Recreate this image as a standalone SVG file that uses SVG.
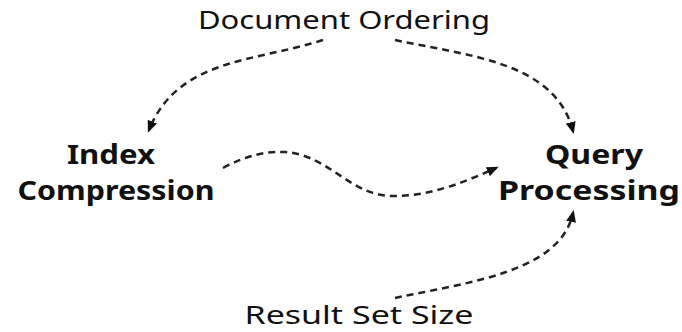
<svg xmlns="http://www.w3.org/2000/svg" width="682" height="332" viewBox="0 0 682 332">
<style>
.t{font-family:"Noto Sans","Open Sans",sans-serif;font-size:25px;fill:#111;text-anchor:middle}
.b{font-family:"Noto Sans","Open Sans",sans-serif;font-size:27px;font-weight:bold;fill:#111;text-anchor:middle}
.e{fill:none;stroke:#222;stroke-width:2.5;stroke-dasharray:7 5;marker-end:url(#ah)}
</style>
<defs>
<marker id="ah" markerWidth="12" markerHeight="10" refX="9" refY="5" orient="auto" markerUnits="userSpaceOnUse">
<path d="M0,0 L12,5 L0,10 z" fill="#111"/>
</marker>
</defs>
<rect width="682" height="332" fill="#fff"/>
<g id="connectors">
<path class="e" d="M323,40 C255,62 178,58 149,130"/>
<path class="e" d="M395,40 C470,56 555,62 573,131"/>
<path class="e" d="M223,168 C245,156 265,151 285,152 C330,155 350,197 395,196 C430,196 465,182 496,168"/>
<path class="e" d="M395,298 C470,282 560,272 573,213"/>
</g>
<g id="document-ordering"><text class="t" x="344" y="29" textLength="292" lengthAdjust="spacingAndGlyphs">Document Ordering</text></g>
<g id="index-compression"><text class="b" x="111" y="164" textLength="88" lengthAdjust="spacingAndGlyphs">Index</text><text class="b" x="116" y="200" textLength="197" lengthAdjust="spacingAndGlyphs">Compression</text></g>
<g id="query-processing"><text class="b" x="594" y="164" textLength="98" lengthAdjust="spacingAndGlyphs">Query</text><text class="b" x="589" y="200" textLength="182" lengthAdjust="spacingAndGlyphs">Processing</text></g>
<g id="result-set-size"><text class="t" x="359" y="324" textLength="229" lengthAdjust="spacingAndGlyphs">Result Set Size</text></g>
</svg>
